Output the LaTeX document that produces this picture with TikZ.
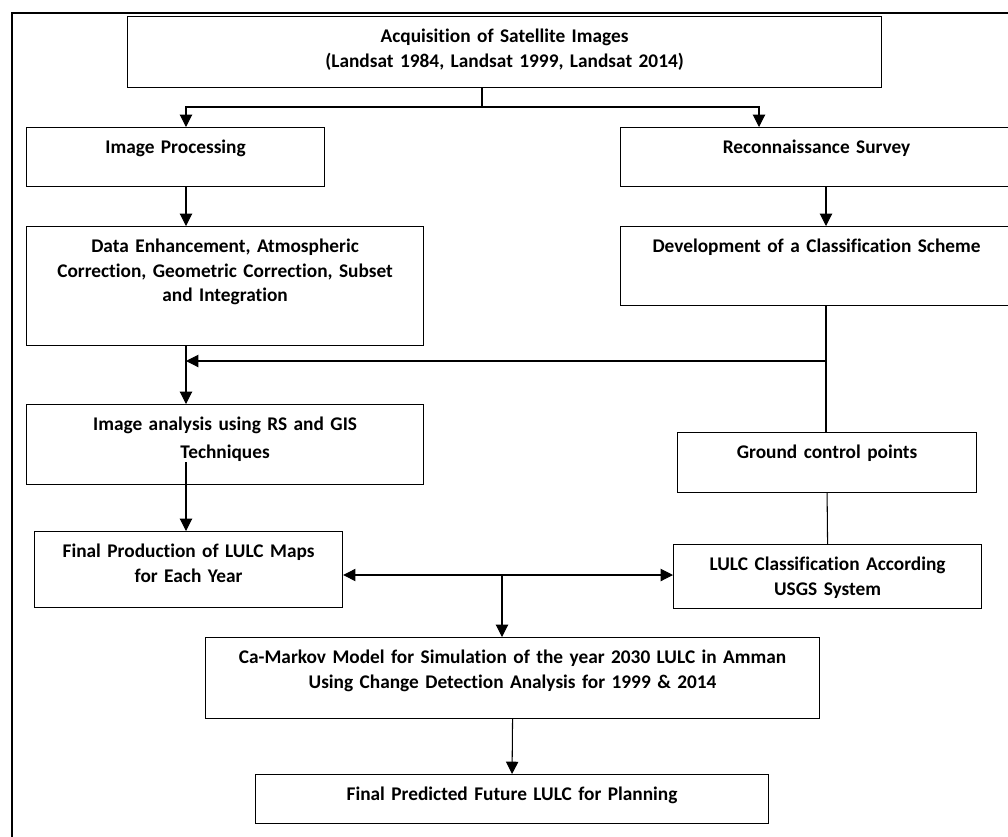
\documentclass[tikz,border=0pt]{standalone}
\usepackage{fontspec}
\setmainfont[Ligatures=NoCommon]{Carlito}
\usepackage{tikz}
\usetikzlibrary{arrows.meta,calc}

\begin{document}
\begin{tikzpicture}[x=0.02cm, y=-0.02cm, >={Triangle[length=7pt,width=7pt]},
    flowbox/.style 2 args={draw, line width=0.7pt, anchor=north west, inner sep=0pt,
      text width=#1, text height=0.52cm, text depth=#2, align=center,
      font=\bfseries\fontsize{11}{14}\selectfont},
    flowline/.style={line width=0.6pt}]
  \useasboundingbox (0,0) rectangle (1008,836);
  \clip (0,0) rectangle (1008,836);
  \draw[line width=0.7pt] (12,13) rectangle (1100,900);
  \node[flowbox={15.08cm}{0.90cm}] (acq) at (127,16) {Acquisition of Satellite Images\\(Landsat 1984, Landsat 1999, Landsat 2014)};
  \node[flowbox={5.96cm}{0.66cm}] (improc) at (26,127) {Image Processing};
  \node[flowbox={7.84cm}{0.66cm}] (recon) at (620,127) {Reconnaissance Survey};
  \node[flowbox={7.94cm}{1.86cm}] (enhance) at (26,226) {Data Enhancement, Atmospheric\\Correction, Geometric Correction, Subset\\and Integration};
  \node[flowbox={7.84cm}{1.06cm}] (scheme) at (620,226) {Development of a Classification Scheme};
  \node[flowbox={7.94cm}{1.08cm}, font=\bfseries\fontsize{11}{15.9}\selectfont] (analysis) at (26,404) {Image analysis  using RS and GIS\\Techniques};
  \node[flowbox={6.16cm}{1.00cm}] (maps) at (34,531) {Final Production  of LULC Maps\\for Each Year};
  \node[flowbox={5.98cm}{0.68cm}] (gcp) at (677,432) {Ground control points};
  \node[flowbox={6.16cm}{0.76cm}] (usgs) at (673,544) {LULC Classification According\\USGS System};
  \node[flowbox={12.28cm}{1.10cm}] (markov) at (205,637) {Ca-Markov Model for Simulation of the year 2030 LULC in Amman\\Using Change Detection Analysis for 1999 \& 2014};
  \node[flowbox={10.26cm}{0.46cm}] (future) at (255,774) {Final Predicted Future LULC for Planning};
  \coordinate (split) at (482,107);
  \coordinate (reconx) at (759,107);
  \coordinate (leftx) at (186,361);
  \coordinate (rightx) at (826,361);
  \coordinate (mid) at (502,575);
  \draw[flowline] (acq.south -| split) -- (split);
  \draw[flowline,->] (split) -| (improc.north -| leftx);
  \draw[flowline,->] (split) -- (reconx) -- (recon.north -| reconx);
  \draw[flowline,->] (improc.south -| leftx) -- (enhance.north -| leftx);
  \draw[flowline,->] (recon.south -| rightx) -- (scheme.north -| rightx);
  \draw[flowline] (scheme.south -| rightx) -- (gcp.north -| rightx);
  \draw[flowline,->] (rightx) -- (leftx);
  \draw[flowline,->] (enhance.south -| leftx) -- (analysis.north -| leftx);
  \draw[flowline,->] ($(analysis.south -| leftx)+(0,-23)$) -- (maps.north -| leftx);
  \draw[flowline] (gcp.south) -- (usgs.north);
  \draw[flowline,<->] (maps.east |- mid) -- (usgs.west |- mid);
  \draw[flowline,->] (mid) -- (markov.north -| mid);
  \draw[flowline,->] (markov.south) -- (future.north);
\end{tikzpicture}
\end{document}
